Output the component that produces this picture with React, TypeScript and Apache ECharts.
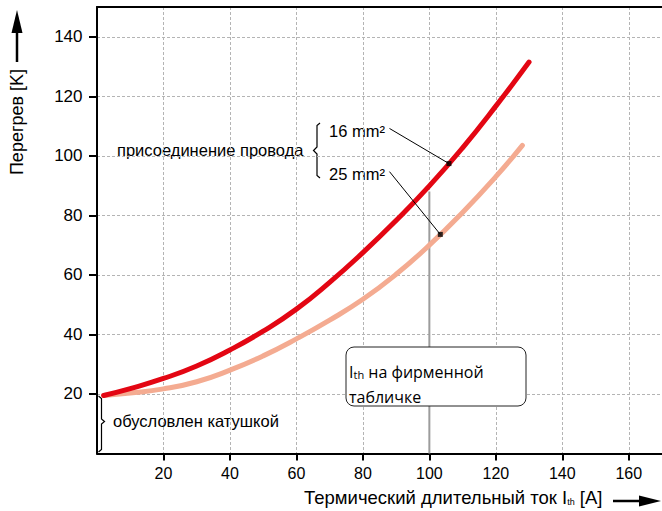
import React, { useEffect, useRef } from 'react';
import * as echarts from 'echarts';

// Tick labels
const xTickValues = [20, 40, 60, 80, 100, 120, 140, 160];
const yTickValues = [20, 40, 60, 80, 100, 120, 140];

// 16 mm² connection (red)
const current16 = [2, 10, 20, 30, 40, 50, 60, 70, 80, 90, 100, 110, 120, 130];
const rise16 = [19.5, 21.8, 25.2, 29.4, 34.8, 41.1, 48.5, 57.5, 67.5, 78.3, 89.9, 102.7, 116.7, 131.5];

// 25 mm² connection (salmon)
const current25 = [2, 10, 20, 30, 40, 50, 60, 70, 80, 90, 100, 110, 120, 128];
const rise25 = [19.5, 20.3, 21.7, 24.1, 28.0, 32.8, 38.5, 44.8, 51.8, 60.2, 70.0, 81.0, 93.0, 103.5];

// Nameplate current marker line
const nameplateCurrent = 100;
const nameplateTop = 88;

// Leader lines (start near label, end at marker on curve)
const leader16 = [[88, 109.2], [105.9, 97.4]];
const leader25 = [[88, 94.7], [103.3, 73.6]];

const FONT = '"Liberation Sans", Arial, sans-serif';

export default function App() {
  const ref = useRef<HTMLDivElement>(null);

  useEffect(() => {
    if (!ref.current) return;
    const chart = echarts.init(ref.current, undefined, { renderer: 'svg' });

    const d16 = current16.map((x, i) => [x, rise16[i]]);
    const d25 = current25.map((x, i) => [x, rise25[i]]);

    const gridLine = { show: true, lineStyle: { color: '#b4b4b4', type: [3, 2], width: 1 } };

    const option: any = {
      animation: false,
      grid: { left: 97, right: -4.3, top: 7, bottom: 57.5, containLabel: false },
      xAxis: [
        {
          type: 'value', min: 0, max: 170, interval: 10, position: 'bottom',
          axisLine: { show: true, onZero: false, lineStyle: { color: '#000', width: 2 } },
          axisTick: { show: true, customValues: xTickValues, length: 7, lineStyle: { color: '#000', width: 2 } },
          axisLabel: { show: true, customValues: xTickValues, margin: 12, fontSize: 16, color: '#000', fontFamily: FONT },
          splitLine: gridLine,
        },
        {
          type: 'value', min: 0, max: 170, interval: 10, position: 'top',
          axisLine: { show: true, onZero: false, lineStyle: { color: '#000', width: 2 } },
          axisTick: { show: false }, axisLabel: { show: false }, splitLine: { show: false },
        },
      ],
      yAxis: [
        {
          type: 'value', min: 0, max: 150, interval: 10, position: 'left',
          axisLine: { show: true, onZero: false, lineStyle: { color: '#000', width: 2 } },
          axisTick: { show: true, customValues: yTickValues, length: 8, lineStyle: { color: '#000', width: 2 } },
          axisLabel: { show: true, customValues: yTickValues, margin: 14.5, fontSize: 17, color: '#000', fontFamily: FONT },
          splitLine: gridLine,
        },
      ],
      series: [
        {
          type: 'line', data: [[nameplateCurrent, 0], [nameplateCurrent, nameplateTop]],
          symbol: 'none', lineStyle: { color: '#9c9c9c', width: 2 }, z: 1, silent: true,
        },
        {
          type: 'line', data: d25, smooth: true, symbol: 'none',
          lineStyle: { color: '#f4ab91', width: 5, cap: 'round' }, z: 2,
        },
        {
          type: 'line', data: d16, smooth: true, symbol: 'none',
          lineStyle: { color: '#e30613', width: 5, cap: 'round' }, z: 3,
        },
        {
          type: 'line', data: leader16, symbol: 'none',
          lineStyle: { color: '#000', width: 1 }, z: 4,
        },
        {
          type: 'line', data: leader25, symbol: 'none',
          lineStyle: { color: '#000', width: 1 }, z: 4,
        },
        {
          type: 'scatter', data: [leader16[1], leader25[1]], symbol: 'rect', symbolSize: 5,
          itemStyle: { color: '#000' }, z: 5,
        },
      ],
      graphic: [
        // Y axis title & arrow
        {
          type: 'text', x: 17, y: 122, rotation: Math.PI / 2,
          style: { text: 'Перегрев [K]', fontSize: 18, fontFamily: FONT, fill: '#000', textAlign: 'center', textVerticalAlign: 'middle' },
        },
        { type: 'line', shape: { x1: 17, y1: 62, x2: 17, y2: 28 }, style: { stroke: '#000', lineWidth: 2.5 } },
        { type: 'polygon', shape: { points: [[17, 10], [11.5, 33], [22.5, 33]] }, style: { fill: '#000' } },
        // X axis title & arrow
        {
          type: 'text', x: 304, y: 497,
          style: {
            text: '{n|Термический длительный ток I}{s|th}{n| [A]}',
            rich: {
              n: { fontSize: 18.5, fontFamily: FONT, fill: '#000' },
              s: { fontSize: 9, fontFamily: FONT, fill: '#000', verticalAlign: 'bottom' },
            },
            textAlign: 'left', textVerticalAlign: 'middle',
          },
        },
        { type: 'line', shape: { x1: 613, y1: 501, x2: 645, y2: 501 }, style: { stroke: '#000', lineWidth: 2.5 } },
        { type: 'polygon', shape: { points: [[661, 501], [639, 495.5], [639, 506.5]] }, style: { fill: '#000' } },
        // Connection annotation
        {
          type: 'text', x: 117, y: 150,
          style: { text: 'присоединение провода', fontSize: 16.5, fontFamily: FONT, fill: '#000', textVerticalAlign: 'middle' },
        },
        {
          type: 'polyline',
          shape: { points: [[320, 123], [317, 125.5], [317, 147], [313.5, 150.5], [317, 154], [317, 175.5], [320, 178]] },
          style: { stroke: '#000', lineWidth: 1.2, fill: 'none' },
        },
        {
          type: 'text', x: 329, y: 131,
          style: { text: '16 mm²', fontSize: 16.5, fontFamily: FONT, fill: '#000', textVerticalAlign: 'middle' },
        },
        {
          type: 'text', x: 329, y: 174,
          style: { text: '25 mm²', fontSize: 16.5, fontFamily: FONT, fill: '#000', textVerticalAlign: 'middle' },
        },
        // Coil annotation
        {
          type: 'polyline',
          shape: { points: [[98.5, 396], [101.5, 398.5], [101.5, 419], [104.5, 421.5], [101.5, 424], [101.5, 449.5], [98.5, 452]] },
          style: { stroke: '#000', lineWidth: 1.2, fill: 'none' },
        },
        {
          type: 'text', x: 113, y: 421,
          style: { text: 'обусловлен катушкой', fontSize: 16.5, fontFamily: FONT, fill: '#000', textVerticalAlign: 'middle' },
        },
        // Nameplate callout
        {
          type: 'rect', z: 20,
          shape: { x: 346, y: 347, width: 180, height: 59, r: 8 },
          style: { fill: '#fff', stroke: '#222', lineWidth: 1 },
        },
        {
          type: 'text', z: 21, x: 349, y: 371.5,
          style: {
            text: '{n|I}{s|th}{n| на фирменной}',
            rich: {
              n: { fontSize: 16, fontFamily: '"Open Sans", sans-serif', fill: '#000' },
              s: { fontSize: 11, fontFamily: '"Open Sans", sans-serif', fill: '#000', verticalAlign: 'bottom' },
            },
            textVerticalAlign: 'middle',
          },
        },
        {
          type: 'text', z: 21, x: 349, y: 396.5,
          style: { text: 'табличке', fontSize: 16, fontFamily: '"Open Sans", sans-serif', fill: '#000', textVerticalAlign: 'middle' },
        },
      ],
    };

    chart.setOption(option);
    return () => chart.dispose();
  }, []);

  return <div ref={ref} style={{ position: 'absolute', left: 0, top: 0, width: 662, height: 511 }} />;
}
